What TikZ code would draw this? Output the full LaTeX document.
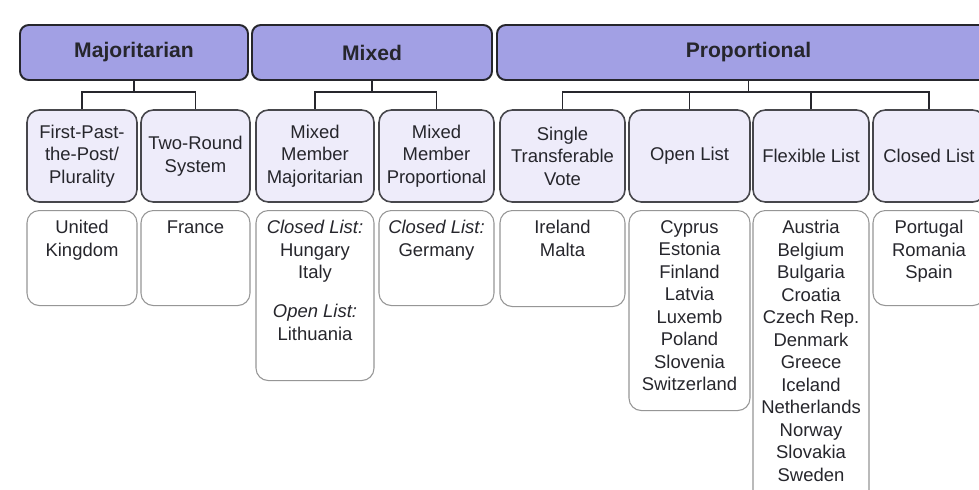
\documentclass[tikz,border=0pt]{standalone}
\usepackage{fontspec}
\setmainfont{Liberation Sans}
\usepackage{tikz}
\usetikzlibrary{positioning}

\definecolor{headfill}{RGB}{162,160,228}
\definecolor{typefill}{RGB}{238,236,250}
\definecolor{inkgray}{RGB}{38,38,44}
\definecolor{listline}{RGB}{150,150,150}

\tikzset{
  headbox/.style={draw=inkgray, line width=1.1pt, fill=headfill, rounded corners=5pt,
    minimum height=1.1cm, font=\fontsize{12}{14}\selectfont\bfseries, text=inkgray},
  typebox/.style={draw=inkgray!85, line width=0.9pt, fill=typefill, rounded corners=7pt,
    minimum height=1.84cm, align=center, font=\fontsize{10.5}{12.8}\selectfont, text=inkgray},
  listbox/.style={draw=listline, line width=0.6pt, fill=white, rounded corners=7pt, anchor=north},
  listtext/.style={anchor=north, align=center, inner sep=0pt,
    font=\fontsize{10.5}{12.8}\selectfont, text=inkgray},
  branch/.style={draw=inkgray, line width=0.8pt}
}

\begin{document}
\begin{tikzpicture}
\useasboundingbox (0,0) rectangle (19.58,-9.78);
\clip (0,0) rectangle (19.58,-9.78);
\fill[white] (0,0) rectangle (19.58,-9.78);

% families
\node[headbox, minimum width=4.56cm] (maj) at (2.68,-1.05) {Majoritarian};
\node[headbox, minimum width=4.8cm] (mix) at (7.44,-1.05) {Mixed};
\node[headbox, minimum width=10.06cm] (prop) at (14.97,-1.05) {Proportional};

% types
\node[typebox, minimum width=2.2cm] (fptp) at (1.64,-3.12) {First-Past-\\the-Post/\\Plurality};
\node[typebox, minimum width=2.18cm] (trs) at (3.91,-3.12) {Two-Round\\System};
\node[typebox, minimum width=2.36cm] (mmm) at (6.30,-3.12) {Mixed\\Member\\Majoritarian};
\node[typebox, minimum width=2.3cm] (mmp) at (8.73,-3.12) {Mixed\\Member\\Proportional};
\node[typebox, minimum width=2.5cm] (stv) at (11.25,-3.12) {Single\\Transferable\\Vote};
\node[typebox, minimum width=2.42cm] (open) at (13.79,-3.12) {Open List};
\node[typebox, minimum width=2.32cm] (flex) at (16.22,-3.12) {Flexible List};
\node[typebox, minimum width=2.24cm] (closed) at (18.58,-3.12) {Closed List};

% branches
\coordinate (bar) at (0,-1.84);
\draw[branch] (maj.south) -- (bar -| maj.south);
\draw[branch] (fptp.north) |- (bar -| maj.south) -| (trs.north);
\draw[branch] (mix.south) -- (bar -| mix.south);
\draw[branch] (mmm.north) |- (bar -| mix.south) -| (mmp.north);
\draw[branch] (prop.south) -- (bar -| prop.south);
\draw[branch] (stv.north) |- (bar -| prop.south) -| (closed.north);
\draw[branch] (open.north) -- (bar -| open.north);
\draw[branch] (flex.north) -- (bar -| flex.north);

% countries
\coordinate (row) at (0,-4.2);
\node[listbox, minimum width=2.2cm, minimum height=1.9cm] (ukbox) at (row -| fptp) {};
\node[listbox, minimum width=2.18cm, minimum height=1.9cm] (frbox) at (row -| trs) {};
\node[listbox, minimum width=2.36cm, minimum height=3.4cm] (mmmbox) at (row -| mmm) {};
\node[listbox, minimum width=2.3cm, minimum height=1.9cm] (mmpbox) at (row -| mmp) {};
\node[listbox, minimum width=2.5cm, minimum height=1.92cm] (stvbox) at (row -| stv) {};
\node[listbox, minimum width=2.42cm, minimum height=4.0cm] (openbox) at (row -| open) {};
\node[listbox, minimum width=2.32cm, minimum height=5.9cm] (flexbox) at (row -| flex) {};
\node[listbox, minimum width=2.24cm, minimum height=1.9cm] (closedbox) at (row -| closed) {};

\node[listtext, below=0.2cm of ukbox.north] (uk) {United\\Kingdom};
\node[listtext, below=0.2cm of frbox.north] (fr) {France};
\node[listtext, below=0.2cm of mmmbox.north] (mmmlist) {\textit{Closed List:}\\Hungary\\Italy\\[0.9em]\textit{Open List:}\\Lithuania};
\node[listtext, below=0.2cm of mmpbox.north] (mmplist) {\textit{Closed List:}\\Germany};
\node[listtext, below=0.2cm of stvbox.north] (stvlist) {Ireland\\Malta};
\node[listtext, below=0.2cm of openbox.north] (openlist) {Cyprus\\Estonia\\Finland\\Latvia\\Luxemb\\Poland\\Slovenia\\Switzerland};
\node[listtext, below=0.2cm of flexbox.north] (flexlist) {Austria\\Belgium\\Bulgaria\\Croatia\\Czech Rep.\\Denmark\\Greece\\Iceland\\Netherlands\\Norway\\Slovakia\\Sweden};
\node[listtext, below=0.2cm of closedbox.north] (closedlist) {Portugal\\Romania\\Spain};
\end{tikzpicture}
\end{document}
